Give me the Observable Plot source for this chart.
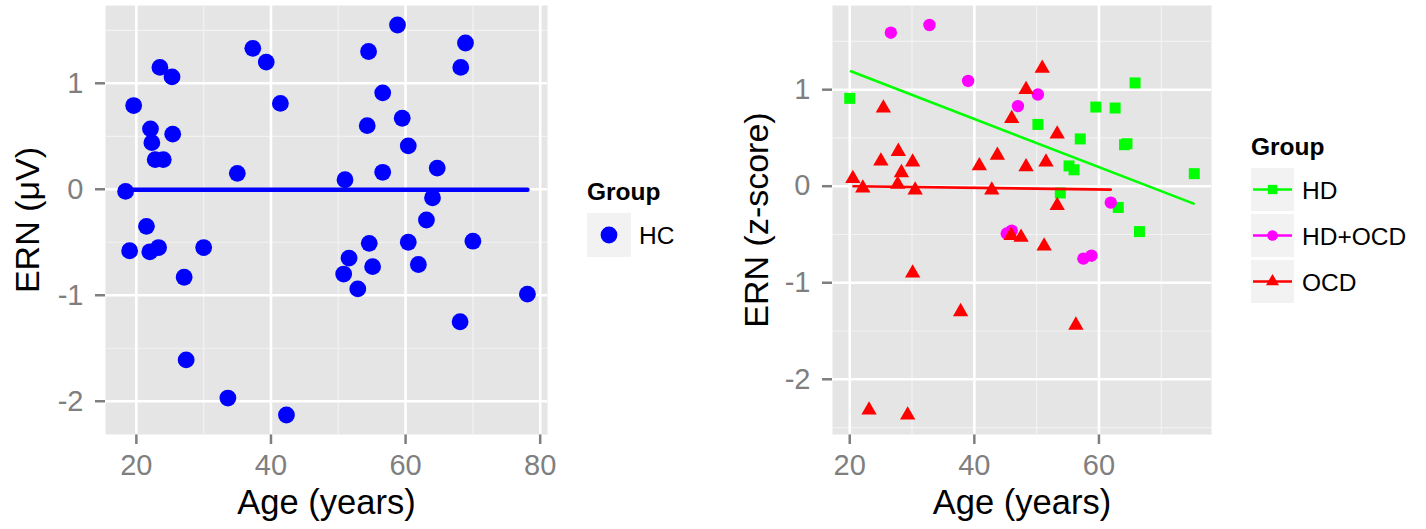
<!DOCTYPE html>
<html>
<head>
<meta charset="utf-8">
<script src="https://cdn.jsdelivr.net/npm/d3@7"></script>
<script src="https://cdn.jsdelivr.net/npm/@observablehq/plot@0.6"></script>
<style>
  html, body { margin: 0; padding: 0; background: #ffffff; }
  #root { position: relative; width: 1426px; height: 529px; overflow: hidden; background: #ffffff;
          font-family: "Liberation Sans", Arial, sans-serif; }
  #root > svg, #root > div { position: absolute; }
  #root svg [aria-label*="axis"] line, #root svg [aria-label*="axis"] path { stroke-width: 2.5px; }
</style>
</head>
<body>
<div id="root"></div>
<script>
// ---------------- data ----------------
// Left panel: healthy controls (HC)
const hcAge = [18.4, 19.6, 23.5, 25.3, 22.1, 22.3, 25.4, 22.8, 24.0, 35.0, 37.3, 39.3, 41.4, 51.0, 54.5,
               58.8, 56.6, 59.5, 54.3, 60.4, 56.6, 64.7, 68.9, 68.2, 64.0, 63.1, 21.5, 19.0, 22.0, 23.3,
               30.0, 27.1, 27.4, 33.6, 42.3, 51.6, 50.8, 52.9, 54.6, 55.1, 60.4, 61.9, 70.0, 68.1, 78.1];
const hcErn = [-0.02, 0.79, 1.15, 1.06, 0.57, 0.44, 0.52, 0.28, 0.28, 0.15, 1.33, 1.20, 0.81, 0.09, 1.30,
               1.55, 0.91, 0.67, 0.60, 0.41, 0.16, 0.20, 1.38, 1.15, -0.08, -0.29, -0.35, -0.58, -0.59, -0.55,
               -0.55, -0.83, -1.61, -1.97, -2.13, -0.65, -0.80, -0.94, -0.51, -0.73, -0.50, -0.71, -0.49, -1.25, -0.99];
const hcFitAge = [18.4, 78.1];
const hcFitErn = [-0.005, -0.005];

// Right panel: patient groups
const groupNames = ["HD", "HD+OCD", "OCD"];
const hdAge = [20.0, 65.8, 59.5, 62.6, 50.2, 57.0, 64.1, 64.5, 55.2, 56.0, 75.3, 53.8, 63.1, 66.5];
const hdErn = [0.91, 1.07, 0.82, 0.81, 0.64, 0.49, 0.43, 0.44, 0.21, 0.17, 0.13, -0.07, -0.22, -0.47];
const hdocdAge = [26.6, 32.8, 39.0, 50.2, 47.0, 61.9, 45.2, 46.0, 57.5, 58.8];
const hdocdErn = [1.59, 1.67, 1.09, 0.95, 0.83, -0.17, -0.49, -0.46, -0.75, -0.72];
const ocdAge = [50.9, 48.3, 25.4, 46.0, 53.3, 27.8, 25.0, 30.1, 43.7, 40.8, 48.3, 51.5, 28.3, 20.5, 27.7,
                22.1, 30.5, 42.8, 53.3, 45.9, 47.5, 51.2, 30.1, 37.8, 56.3, 23.1, 29.3];
const ocdErn = [1.22, 1.00, 0.81, 0.70, 0.54, 0.36, 0.26, 0.25, 0.32, 0.21, 0.20, 0.25, 0.14, 0.08, 0.02,
                -0.02, -0.04, -0.04, -0.20, -0.51, -0.53, -0.62, -0.90, -1.30, -1.44, -2.32, -2.37];
const fitGroup = ["HD", "HD", "OCD", "OCD"];
const fitAge = [20.2, 75.2, 20.6, 61.9];
const fitErn = [1.19, -0.18, 0.00, -0.035];

// Axis ticks and labels
const xTicksL = [20, 40, 60, 80], xMinorL = [30, 50, 70];
const yTicksL = [-2, -1, 0, 1],   yMinorL = [-1.5, -0.5, 0.5, 1.5];
const xTicksR = [20, 40, 60],     xMinorR = [30, 50, 70];
const yTicksR = [-2, -1, 0, 1],   yMinorR = [-2.5, -1.5, -0.5, 0.5, 1.5];
const xTitle = "Age (years)";
const yTitleL = "ERN (\u03bcV)";
const yTitleR = "ERN (z-score)";
const legendTitle = "Group";
const hcName = "HC";

// ---------------- styles ----------------
const FONT = "'Liberation Sans', Arial, sans-serif";
const palette = ["#00ff00", "#ff00ff", "#ff0000"];
const symbolsOf = {"HD": "square", "HD+OCD": "circle", "OCD": "triangle"};
const radiusOf = {"HD": 6.2, "HD+OCD": 6.2, "OCD": 5.7};
const BG = "#e5e5e5", MINOR = "#f2f2f2";

// ggplot-like 5% expansion
function expand(vals) {
  const [lo, hi] = d3.extent(vals);
  const p = (hi - lo) * 0.05;
  return [lo - p, hi + p];
}
const fmt = d => String(d);

const root = document.getElementById("root");

// ---------------- left panel ----------------
const hcRows = hcAge.map((a, i) => ({age: a, ern: hcErn[i]}));
const hcFit = hcFitAge.map((a, i) => ({age: a, ern: hcFitErn[i]}));

const left = Plot.plot({
  width: 560, height: 529,
  marginLeft: 105, marginRight: 13, marginTop: 5, marginBottom: 95,
  style: {fontFamily: FONT, fontSize: "29px", color: "#7f7f7f", background: "transparent"},
  x: {domain: expand(hcAge.concat(hcFitAge)), ticks: xTicksL, tickSize: 10, tickPadding: 10, tickFormat: fmt, label: null},
  y: {domain: expand(hcErn.concat(hcFitErn)), ticks: yTicksL, tickSize: 10, tickPadding: 12, tickFormat: fmt, label: null},
  marks: [
    Plot.frame({fill: BG, stroke: "none"}),
    Plot.ruleX(xMinorL, {stroke: MINOR, strokeWidth: 1.2}),
    Plot.ruleY(yMinorL, {stroke: MINOR, strokeWidth: 1.2}),
    Plot.ruleX(xTicksL, {stroke: "#ffffff", strokeWidth: 2.6}),
    Plot.ruleY(yTicksL, {stroke: "#ffffff", strokeWidth: 2.6}),
    Plot.dot(hcRows, {x: "age", y: "ern", r: 8.4, fill: "#0000ff", stroke: "none"}),
    Plot.line(hcFit, {x: "age", y: "ern", stroke: "#0000ff", strokeWidth: 4.5}),
    Plot.text([xTitle], {text: d => d, frameAnchor: "bottom", lineAnchor: "middle", textAnchor: "middle",
                         dy: 68, fontSize: 34.5, fill: "#000000"}),
    Plot.text([yTitleL], {text: d => d, frameAnchor: "left", lineAnchor: "middle", textAnchor: "middle",
                          rotate: -90, dx: -77, fontSize: 34, fill: "#000000"})
  ]
});
left.style.left = "0px"; left.style.top = "0px";
root.appendChild(left);

// ---------------- right panel ----------------
const rows = [].concat(
  hdAge.map((a, i) => ({group: "HD", age: a, ern: hdErn[i]})),
  hdocdAge.map((a, i) => ({group: "HD+OCD", age: a, ern: hdocdErn[i]})),
  ocdAge.map((a, i) => ({group: "OCD", age: a, ern: ocdErn[i]}))
);
const fits = fitAge.map((a, i) => ({group: fitGroup[i], age: a, ern: fitErn[i]}));
const allAge = rows.map(d => d.age).concat(fitAge);
const allErn = rows.map(d => d.ern).concat(fitErn);

const right = Plot.plot({
  width: 500, height: 529,
  marginLeft: 112, marginRight: 9, marginTop: 5, marginBottom: 95,
  style: {fontFamily: FONT, fontSize: "29px", color: "#7f7f7f", background: "transparent"},
  x: {domain: expand(allAge), ticks: xTicksR, tickSize: 10, tickPadding: 10, tickFormat: fmt, label: null},
  y: {domain: expand(allErn), ticks: yTicksR, tickSize: 10, tickPadding: 12, tickFormat: fmt, label: null},
  color: {domain: groupNames, range: palette},
  marks: [
    Plot.frame({fill: BG, stroke: "none"}),
    Plot.ruleX(xMinorR, {stroke: MINOR, strokeWidth: 1.2}),
    Plot.ruleY(yMinorR, {stroke: MINOR, strokeWidth: 1.2}),
    Plot.ruleX(xTicksR, {stroke: "#ffffff", strokeWidth: 2.6}),
    Plot.ruleY(yTicksR, {stroke: "#ffffff", strokeWidth: 2.6}),
    ...groupNames.map(g => Plot.dot(rows, {filter: d => d.group === g, x: "age", y: "ern",
                                           symbol: symbolsOf[g], r: radiusOf[g], fill: "group", stroke: "none"})),
    Plot.line(fits, {x: "age", y: "ern", z: "group", stroke: "group", strokeWidth: 2.6}),
    Plot.text([xTitle], {text: d => d, frameAnchor: "bottom", lineAnchor: "middle", textAnchor: "middle",
                         dy: 68, fontSize: 34.5, fill: "#000000"}),
    Plot.text([yTitleR], {text: d => d, frameAnchor: "left", lineAnchor: "middle", textAnchor: "middle",
                          rotate: -90, dx: -75, fontSize: 34, fill: "#000000"})
  ]
});
right.style.left = "720px"; right.style.top = "0px";
root.appendChild(right);

// ---------------- legends ----------------
// left legend
{
  const svg = d3.select(root).append("svg")
    .attr("width", 130).attr("height", 100)
    .style("left", "580px").style("top", "170px");
  svg.append("text").attr("x", 7).attr("y", 30).attr("font-family", FONT).attr("font-weight", "bold")
    .attr("font-size", 24.5).attr("fill", "#000").text(legendTitle);
  svg.append("rect").attr("x", 7).attr("y", 43).attr("width", 44).attr("height", 44).attr("fill", MINOR);
  svg.append("circle").attr("cx", 29).attr("cy", 65).attr("r", 8.4).attr("fill", "#0000ff");
  svg.append("text").attr("x", 59).attr("y", 74).attr("font-family", FONT)
    .attr("font-size", 24.5).attr("fill", "#000").text(hcName);
}
// right legend
{
  const svg = d3.select(root).append("svg")
    .attr("width", 186).attr("height", 190)
    .style("left", "1240px").style("top", "130px");
  svg.append("text").attr("x", 11).attr("y", 25).attr("font-family", FONT).attr("font-weight", "bold")
    .attr("font-size", 24.5).attr("fill", "#000").text(legendTitle);
  const d3sym = {square: d3.symbolSquare, circle: d3.symbolCircle, triangle: d3.symbolTriangle};
  groupNames.forEach((g, i) => {
    const top = 38 + i * 46, cy = top + 21.5;
    const col = palette[i];
    svg.append("rect").attr("x", 11).attr("y", top).attr("width", 43).attr("height", 43).attr("fill", MINOR);
    svg.append("line").attr("x1", 13).attr("x2", 52).attr("y1", cy).attr("y2", cy)
      .attr("stroke", col).attr("stroke-width", 2.6);
    const r = radiusOf[g] * 0.85;
    svg.append("path").attr("transform", `translate(32.5,${cy})`)
      .attr("d", d3.symbol(d3sym[symbolsOf[g]], Math.PI * r * r)()).attr("fill", col);
    svg.append("text").attr("x", 62).attr("y", cy + 9).attr("font-family", FONT)
      .attr("font-size", 24.5).attr("fill", "#000").text(g);
  });
}
</script>
</body>
</html>
